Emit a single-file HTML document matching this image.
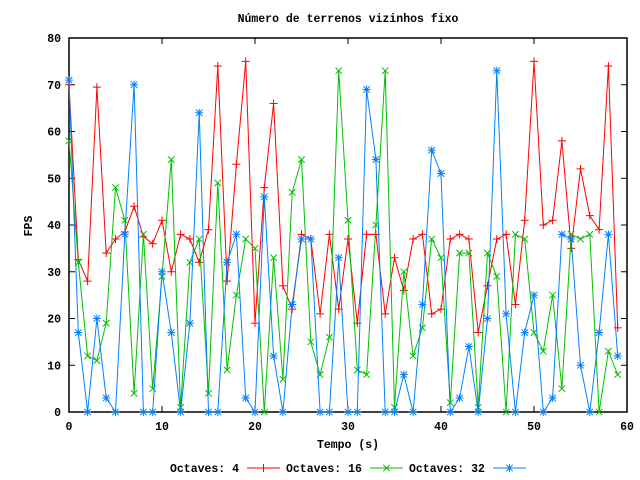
<!DOCTYPE html>
<html><head><meta charset="utf-8"><style>
html,body{margin:0;padding:0;background:#fff;}
svg{display:block;font-family:"Liberation Mono",monospace;font-weight:bold;font-size:11.5px;}
</style></head><body>
<svg id="chart" width="640" height="480">
<rect x="0" y="0" width="640" height="480" fill="#fff"/>
<text x="348" y="22" text-anchor="middle">Número de terrenos vizinhos fixo</text>
<text x="348" y="448" text-anchor="middle">Tempo (s)</text>
<text transform="translate(32,226) rotate(-90)" text-anchor="middle">FPS</text>
<g id="axes"></g>
<g id="series"></g>
<g id="legend"></g>
</svg>
<script>
const xTicks = [0,10,20,30,40,50,60];
const yTicks = [0,10,20,30,40,50,60,70,80];
const seriesNames = ["Octaves: 4","Octaves: 16","Octaves: 32"];
const octaves4 = [70,32.6,28,69.5,34,37,38.5,44,37.5,36,41,30,38,37,32,39,74,28,53,75,19,48,66,27,22,38,37,21,38,22,37,19,38,38,21,33,26,37,38,21,22,37,38,37,17,27,37,38,23,41,75,40,41,58,35,52,42,39,74,18];
const octaves16 = [58,32,12,11,19,48,41,4,38,5,29,54,1,32,37,4,49,9,25,37,35,0,33,7,47,54,15,8,16,73,41,9,8,40,73,1,30,12,18,37,33,2,34,34,1,34,29,0,38,37,17,13,25,5,38,37,38,0,13,8];
const octaves32 = [71,17,0,20,3,0,38,70,0,0,30,17,0,19,64,0,0,32,38,3,0,46,12,0,23,37,37,0,0,33,0,0,69,54,0,0,8,0,23,56,51,0,3,14,0,20,73,21,0,17,25,0,3,38,37,10,0,17,38,12];
const colors = ["#ff0000","#00c000","#0080ff"];
const markers = ["plus","cross","star"];

const NS="http://www.w3.org/2000/svg";
const L=69,R=627,T=38,B=412;
function xs(v){return L+(v-0)/(60-0)*(R-L);}
function ys(v){return B-(v-0)/(80-0)*(B-T);}
function mk(tag,attrs,parent){const e=document.createElementNS(NS,tag);for(const k in attrs)e.setAttribute(k,attrs[k]);parent.appendChild(e);return e;}
const axes=document.getElementById('axes');
mk('rect',{x:L,y:T,width:R-L,height:B-T,fill:'none',stroke:'#000','stroke-width':1.5},axes);
xTicks.forEach(t=>{
  const x=xs(t);
  mk('line',{x1:x,y1:B,x2:x,y2:B-6,stroke:'#000'},axes);
  mk('line',{x1:x,y1:T,x2:x,y2:T+6,stroke:'#000'},axes);
  const tx=mk('text',{x:x,y:B+18,'text-anchor':'middle'},axes);
  tx.textContent=t;
  
  
});
yTicks.forEach(t=>{
  const y=ys(t);
  mk('line',{x1:L,y1:y,x2:L+6,y2:y,stroke:'#000'},axes);
  mk('line',{x1:R,y1:y,x2:R-6,y2:y,stroke:'#000'},axes);
  const tx=mk('text',{x:L-8,y:y+4,'text-anchor':'end'},axes);
  tx.textContent=t;
  
  
});
function marker(type,x,y,c,g){
  const s=4;
  if(type==='plus'||type==='star'){
    mk('line',{x1:x-s,y1:y,x2:x+s,y2:y,stroke:c},g);
    mk('line',{x1:x,y1:y-s,x2:x,y2:y+s,stroke:c},g);
  }
  if(type==='cross'||type==='star'){
    mk('line',{x1:x-s*0.8,y1:y-s*0.8,x2:x+s*0.8,y2:y+s*0.8,stroke:c},g);
    mk('line',{x1:x-s*0.8,y1:y+s*0.8,x2:x+s*0.8,y2:y-s*0.8,stroke:c},g);
  }
}
const sg=document.getElementById('series');
[octaves4,octaves16,octaves32].forEach((data,si)=>{
  const g=mk('g',{},sg);
  
  
  const pts=data.map((v,i)=>xs(i)+','+ys(v)).join(' ');
  const pl=mk('polyline',{points:pts,fill:'none',stroke:colors[si],'stroke-width':1},g);
  
  
  data.forEach((v,i)=>marker(markers[si],xs(i),ys(v),colors[si],g));
});
const lg=document.getElementById('legend');
const legX=[[170,247,280],[286,370,403],[409,493,526]];
seriesNames.forEach((n,i)=>{
  const g=mk('g',{},lg);
  
  
  const t=mk('text',{x:legX[i][0],y:472},g);
  t.textContent=n;
  mk('line',{x1:legX[i][1],y1:468,x2:legX[i][2],y2:468,stroke:colors[i]},g);
  marker(markers[i],(legX[i][1]+legX[i][2])/2,468,colors[i],g);
});
</script>
</body></html>
